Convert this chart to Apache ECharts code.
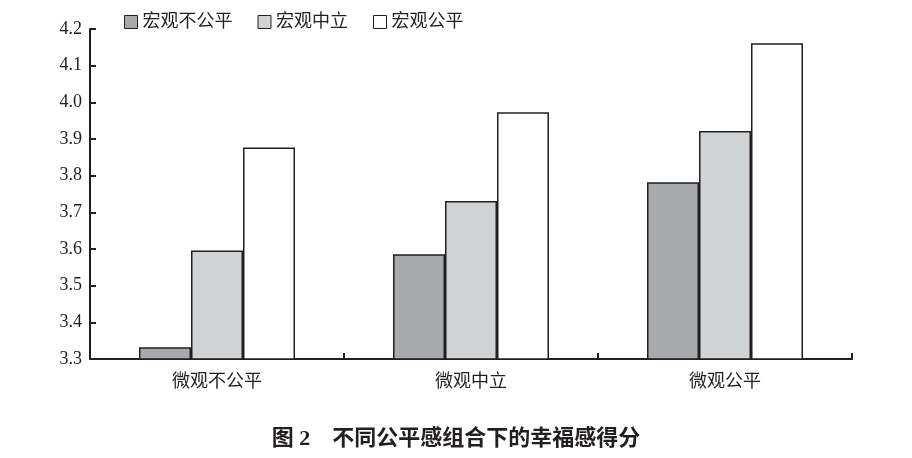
<!DOCTYPE html>
<html><head><meta charset="utf-8">
<script src="https://cdn.jsdelivr.net/npm/echarts@6/dist/echarts.min.js"></script>
<style>html,body{margin:0;padding:0;background:#fff}#c{width:912px;height:458px}</style>
</head><body><div id="c"></div>
<script>
const categories = ['微观不公平', '微观中立', '微观公平'];
const seriesNames = ['宏观不公平', '宏观中立', '宏观公平'];
const macroUnfair = [3.332, 3.586, 3.782];
const macroNeutral = [3.596, 3.731, 3.922];
const macroFair = [3.877, 3.973, 4.161];
const yTicks = ['3.3','3.4','3.5','3.6','3.7','3.8','3.9','4.0','4.1','4.2'];
const colors = ['#a8a9ad', '#d1d2d4', '#ffffff'];
const ink = '#231f20';
const cjk = '"Liberation Serif", "Noto Sans CJK SC", serif';

const chart = echarts.init(document.getElementById('c'), null, {renderer: 'canvas'});
const values = [macroUnfair, macroNeutral, macroFair];
chart.setOption({
  animation: false,
  backgroundColor: '#fff',
  title: {
    text: '图 2    不同公平感组合下的幸福感得分',
    left: 'center', top: 423,
    textStyle: {fontFamily: cjk, fontSize: 22, fontWeight: 'bold', color: ink}
  },
  legend: {
    data: seriesNames, top: 8, left: 119, icon: 'rect',
    itemWidth: 13, itemHeight: 13, itemGap: 25,
    textStyle: {fontFamily: cjk, fontSize: 18, color: ink},
    itemStyle: {borderColor: ink, borderWidth: 1}
  },
  grid: {left: 90, right: 60, top: 29, bottom: 99, containLabel: false},
  xAxis: {
    type: 'category', data: categories,
    axisLine: {lineStyle: {color: ink, width: 2}},
    axisTick: {show: true, interval: 0, inside: true, length: 6, lineStyle: {color: ink, width: 2}},
    axisLabel: {fontFamily: cjk, fontSize: 18, color: ink, margin: 14}
  },
  yAxis: {
    type: 'value', min: 3.3, max: 4.2, interval: 0.1,
    axisLine: {show: true, lineStyle: {color: ink, width: 2}},
    axisTick: {show: true, inside: true, length: 6, lineStyle: {color: ink, width: 2}},
    splitLine: {show: false},
    axisLabel: {fontFamily: cjk, fontSize: 18, color: ink, margin: 8,
      formatter: v => yTicks[Math.round((v - 3.3) * 10)] }
  },
  series: seriesNames.map((n, i) => ({
    name: n, type: 'bar', data: values[i],
    barWidth: 52, barGap: '0%',
    itemStyle: {color: colors[i], borderColor: ink, borderWidth: 1.5}
  }))
});
</script></body></html>
